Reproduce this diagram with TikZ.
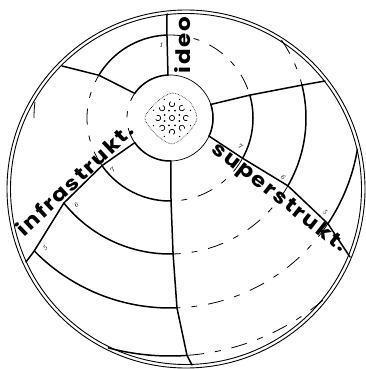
\documentclass[tikz,border=0pt]{standalone}
\usepackage{fontspec}
\newfontfamily\spokefont[FakeStretch=1.15,LetterSpace=9]{Poppins}
\usetikzlibrary{calc}

\begin{document}
\begin{tikzpicture}[x=1pt,y=-1pt,
  rimline/.style={line width=0.9pt},
  cellline/.style={line width=1.5pt, line join=round, line cap=round},
  innerline/.style={line width=0.7pt},
  ringdash/.style={line width=0.8pt, dash pattern=on 16pt off 11pt on 6pt off 11pt},
  spokelabel/.style={font=\spokefont\bfseries\fontsize{20}{24}\selectfont, inner sep=0pt},
  cellnum/.style={font=\itshape\fontsize{7}{8}\selectfont, inner sep=0pt}]
  \useasboundingbox (0,0) rectangle (366,369);
  \def\ringa{43}
  \def\ringb{83}
  \def\ringc{136}
  \def\ringd{190}
  \def\ringe{238}
  \coordinate (ctr) at (170,118);
  \coordinate (rim) at (186,189);
  % ends of the spokes on the rim
  \coordinate (ideoend) at (167,14);
  \coordinate (ideorim) at (62,66);
  \coordinate (infraend) at (26,262);
  \coordinate (infrafoot) at (192,365);
  \coordinate (superend) at (350,257);
  \coordinate (superrim) at (325,81);
  % double rim
  \draw[rimline] (rim) circle[radius=179];
  \draw[rimline] (rim) circle[radius=175.5];
  \begin{scope}[shift={(ctr)}, samples=40]
    % inner circle
    \draw[innerline] plot[domain=267.3:449, samples=90] (\x:\ringa);
    \draw[ringdash] plot[domain=145:214.9] (\x:\ringa);
    % ideo cells
    \draw[cellline] (267.3:\ringa) -- (267.9:\ringb) -- (ideoend);
    \draw[cellline] (214.9:\ringa) -- (211:\ringb) -- (ideorim);
    \draw[cellline] plot[domain=214.9:267.3] (\x:\ringa);
    \draw[cellline] plot[domain=211:267.9] (\x:\ringb);
    % infrastrukt. cells
    \draw[cellline] (145:\ringa) -- (145:\ringb) -- (141.3:\ringc) -- (135.6:\ringd) -- (infraend);
    \draw[cellline] (89:\ringa) -- (89.3:\ringb) -- (88.7:\ringc) -- (87.9:\ringd) -- (85.9:\ringe) -- (infrafoot);
    \draw[cellline] plot[domain=89:145] (\x:\ringa);
    \draw[cellline] plot[domain=89.3:145] (\x:\ringb);
    \draw[cellline] plot[domain=88.7:141.3] (\x:\ringc);
    \draw[cellline] plot[domain=87.9:135.6] (\x:\ringd);
    \draw[cellline] plot[domain=85.9:105] (\x:\ringe);
    % superstrukt. cells
    \draw[cellline] (-18.4:\ringa) -- (-16:\ringb) -- (-14:\ringc) -- (superrim);
    \draw[cellline] (24.9:\ringa) -- (29:\ringb) -- (29.9:\ringc) -- (33.8:\ringd) -- (superend);
    \draw[cellline] plot[domain=-18.4:24.9] (\x:\ringa);
    \draw[cellline] plot[domain=-16:29] (\x:\ringb);
    \draw[cellline] plot[domain=-14:29.9] (\x:\ringc);
    \draw[cellline] plot[domain=9.5:33.8] (\x:\ringd);
    % dashed rings between the sectors
    \draw[ringdash] plot[domain=145:211] (\x:\ringb);
    \draw[ringdash] plot[domain=267.9:344] (\x:\ringb);
    \draw[ringdash] plot[domain=29:89.3] (\x:\ringb);
    \draw[ringdash] plot[domain=180:189] (\x:\ringc);
    \draw[ringdash] plot[domain=325:346] (\x:\ringc);
    \draw[ringdash] plot[domain=29.9:88.7] (\x:\ringc);
    \draw[ringdash] plot[domain=33.8:87.9] (\x:\ringd);
    \draw[ringdash] plot[domain=50:85.9] (\x:\ringe);
  \end{scope}
  % the cluster in the middle
  \begin{scope}[shift={(172,118)}]
    \foreach \a in {0,45,...,315} {
      \begin{scope}[shift={(\a:14)}]
        \draw[innerline] plot[domain=\a+60:\a+330, samples=16] (\x:2.6);
      \end{scope}
      \fill (\a+22.5:8) circle[radius=1];
      \fill (\a+22.5:20) circle[radius=0.7];
    }
    \draw[innerline] (0,0) circle[radius=2.6];
    \draw[line width=0.6pt, densely dotted] plot[smooth cycle] coordinates
      {(0:25) (45:22) (90:26) (135:23) (180:27) (225:22) (270:25) (315:24)};
  \end{scope}
  % labels
  \node[spokelabel, rotate=90, anchor=base] (ideolbl) at (190,45) {ideo};
  \node[spokelabel, rotate=43.4, anchor=base] (infralbl) at (80,185) {infrastrukt.};
  \node[spokelabel, rotate=-38, anchor=base] (superlbl) at (276,202) {superstrukt.};
  \node[cellnum] (ideoone) at (161,45) {1};
  \node[cellnum, rotate=44] (infraseven) at (112,170) {7};
  \node[cellnum, rotate=44] (infrasix) at (76,205) {6};
  \node[cellnum, rotate=44] (infrafive) at (45,248) {5};
  \node[cellnum, rotate=-38] (superseven) at (240,146) {7};
  \node[cellnum, rotate=-38] (supersix) at (283,177) {6};
  \node[cellnum, rotate=-38] (superfive) at (325,212) {5};
\end{tikzpicture}
\end{document}
